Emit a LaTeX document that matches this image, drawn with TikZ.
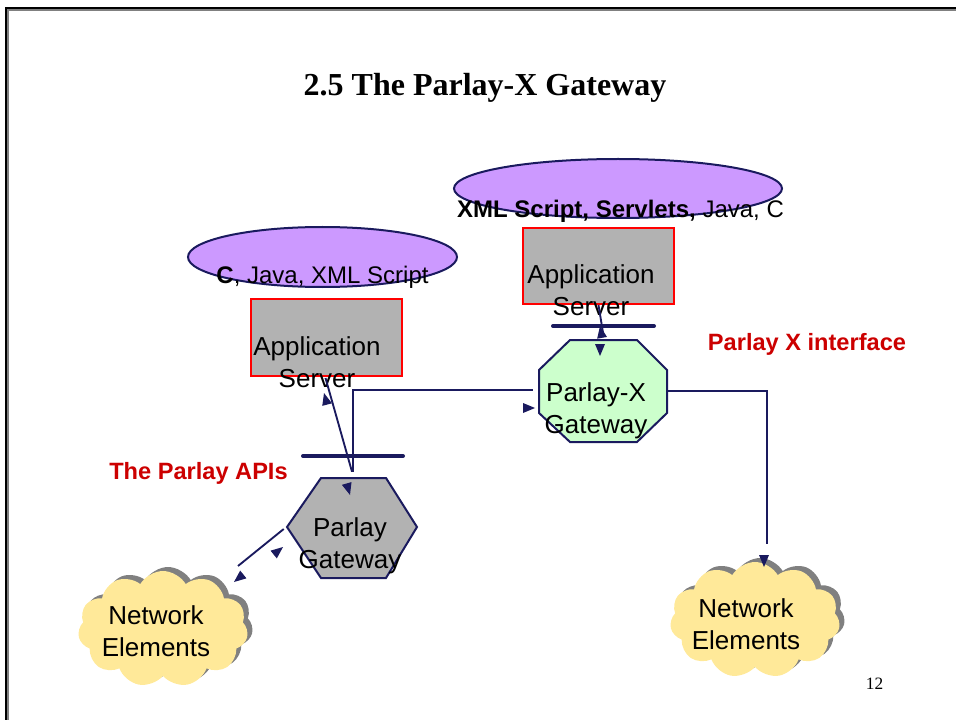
\documentclass[tikz,border=0pt]{standalone}
\usepackage{fontspec}
\setmainfont{Liberation Serif}
\setsansfont{Liberation Sans}
\usetikzlibrary{shapes.geometric,shapes.symbols,calc}
\newdimen\pxu \pxu=0.75pt
\definecolor{navy}{RGB}{26,26,94}
\definecolor{lilac}{RGB}{204,153,255}
\definecolor{boxgray}{RGB}{178,178,178}
\definecolor{mint}{RGB}{204,255,204}
\definecolor{cloudyellow}{RGB}{255,233,153}
\definecolor{shadowgray}{RGB}{128,128,128}
\definecolor{lblred}{RGB}{204,0,0}
\tikzset{
  bodytxt/.style={font=\sffamily\fontsize{19.5}{24}\selectfont, align=center, inner sep=0pt},
  elltxt/.style={font=\sffamily\fontsize{18}{22}\selectfont, inner sep=0pt, anchor=base},
  redlbl/.style={font=\sffamily\bfseries\fontsize{17.7}{22}\selectfont, text=lblred, inner sep=0pt, anchor=base},
  langell/.style={ellipse, draw=navy, fill=lilac, line width=1.5pt, inner sep=0pt},
  appbox/.style={rectangle, draw=red, fill=boxgray, line width=1.5pt, inner sep=0pt},
  bbox/.style={rectangle, draw=none, inner sep=0pt},
  polyshape/.style={draw=navy, line width=1.5pt, line join=miter},
  conn/.style={draw=navy, line width=1.4pt},
  bar/.style={draw=navy, line width=3pt, line cap=round},
  cloudshape/.style={cloud, cloud puffs=11, cloud puff arc=120, aspect=1.45, draw=none, inner sep=0pt},
  ahead/.pic={\fill[navy] (0,0) -- (-12,-5) -- (-12,5) -- cycle;}
}
\begin{document}
\begin{tikzpicture}[x=0.75pt,y=-0.75pt]
\useasboundingbox (0,0) rectangle (956,720);
% frame
\draw[shadowgray, line width=1.5pt] (8,720) -- (8,10) -- (956,10);
\draw[black, line width=1.5pt] (6,720) -- (6,8) -- (956,8);
% title and page number
\node[font=\bfseries\fontsize{24}{28}\selectfont, anchor=base, inner sep=0pt] (title) at (485,96) {2.5 The Parlay-X Gateway};
\node[font=\fontsize{13}{15}\selectfont, anchor=base, inner sep=0pt] (pgnum) at (874.5,689) {12};

% ellipses
\node[langell, minimum width=269\pxu, minimum height=60\pxu] (el1) at (322.5,257) {};
\node[elltxt] (el1t) at (322.5,283) {\textbf{C}, Java, XML Script};
\node[langell, minimum width=328\pxu, minimum height=59\pxu] (el2) at (618,188.5) {};
\node[elltxt] (el2t) at (620.5,218) {\textbf{XML Script, Servlets,} Java, C};

% application servers
\node[appbox, minimum width=151\pxu, minimum height=77\pxu] (as1) at (326.5,337.5) {};
\node[bodytxt] (as1t) at (317,362) {Application\\Server};
\node[appbox, minimum width=151\pxu, minimum height=76\pxu] (as2) at (598.5,266) {};
\node[bodytxt] (as2t) at (591,290) {Application\\Server};

% Parlay-X gateway (octagon)
\path[polyshape, fill=mint] (570,340) -- (637,340) -- (667,370) -- (667,413) -- (637,442) -- (570,442) -- (539,413) -- (539,370) -- cycle;
\node[bbox, minimum width=128\pxu, minimum height=102\pxu] (pxg) at (603,391) {};
\node[bodytxt] (pxgt) at (596,411) {Parlay-X\\Gateway};

% Parlay gateway (hexagon)
\path[polyshape, fill=boxgray] (321,478) -- (386,478) -- (417,527) -- (386,578) -- (321,578) -- (287,527) -- cycle;
\node[bbox, minimum width=130\pxu, minimum height=100\pxu] (pg) at (352,528) {};
\node[bodytxt] (pgt) at (350,545.5) {Parlay\\Gateway};

% clouds
\node[cloudshape, fill=shadowgray, minimum width=170\pxu, minimum height=116\pxu] (ne1s) at (168,625) {};
\node[cloudshape, fill=cloudyellow, minimum width=170\pxu, minimum height=116\pxu] (ne1) at (163,629) {};
\node[bodytxt] (ne1t) at (156,631) {Network\\Elements};
\node[cloudshape, fill=shadowgray, minimum width=170\pxu, minimum height=116\pxu] (ne2s) at (760,616) {};
\node[cloudshape, fill=cloudyellow, minimum width=170\pxu, minimum height=116\pxu] (ne2) at (755,620) {};
\node[bodytxt] (ne2t) at (746,624) {Network\\Elements};

% labels
\node[redlbl] (apis) at (198.5,479) {The Parlay APIs};
\node[redlbl] (pxif) at (807,350) {Parlay X interface};

% free ends
\coordinate (c4e) at (767,544);
\coordinate (c5e) at (238,566);

% connectors
\draw[conn] ($(as1.south)+(-1,1)$) -- ($(pg.north)+(0,-6)$);
\draw[conn] ($(pg.north)+(1,-6)$) |- ($(pxg.west)+(-6,-1)$);
\draw[conn] (as2.south) -- ($(pxg.north)+(0,-7)$);
\draw[conn] (pxg.east) -| (c4e);
\draw[conn] ($(pg.west)+(-3,1)$) -- (c5e);

% interface bars
\draw[bar] (303,456) -- (403,456);
\draw[bar] (553,326) -- (654,326);

% arrowheads
\pic[rotate=105] at (324,393) {ahead};
\pic[rotate=-74] at (350,495) {ahead};
\pic[rotate=0] at (535,408) {ahead};
\pic[rotate=100] at (600,326) {ahead};
\pic[rotate=-90] at (600,356) {ahead};
\pic[rotate=-90] at (764,567) {ahead};
\pic[rotate=-141] at (234,582) {ahead};
\pic[rotate=39] at (283,547) {ahead};
\end{tikzpicture}
\end{document}
